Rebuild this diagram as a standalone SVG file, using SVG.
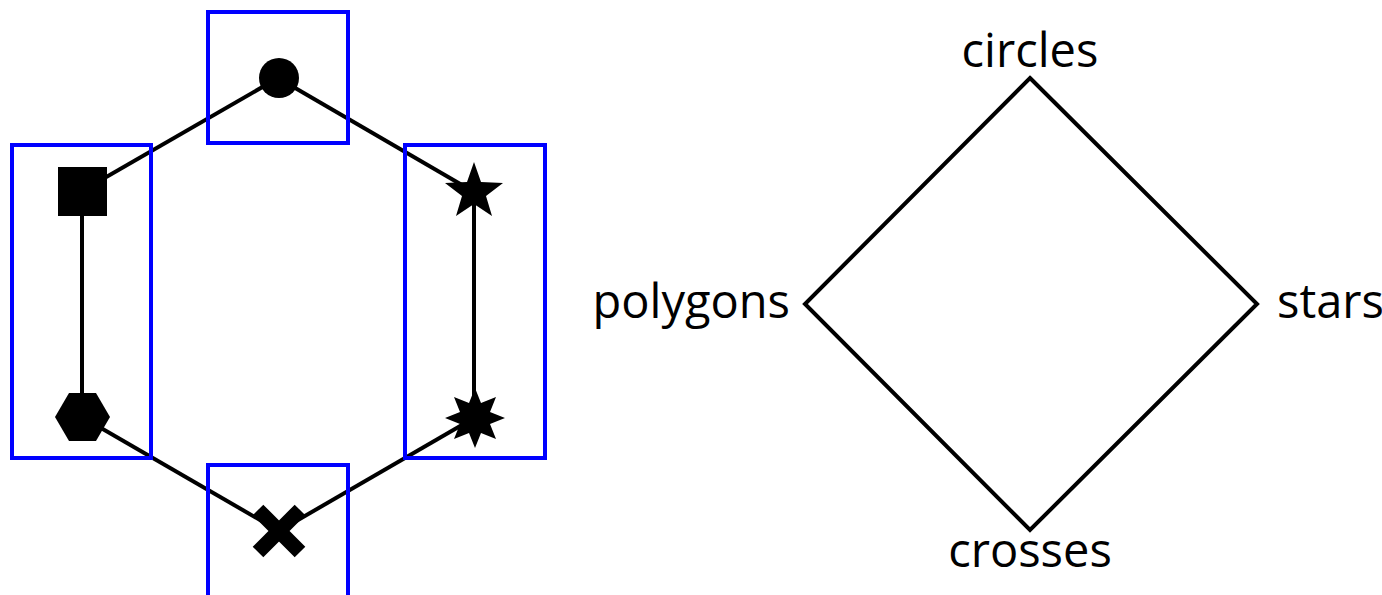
<svg xmlns="http://www.w3.org/2000/svg" width="1382" height="595" viewBox="0 0 1382 595">
<style>
.box{fill:none;stroke:#0000ff;stroke-width:4}
.edge{fill:none;stroke:#000;stroke-width:4}
.shape{fill:#000}
.lbl{font-family:"Open Sans","Noto Sans",sans-serif;font-size:47px;fill:#000}
</style>
<rect width="1382" height="595" fill="#fff"/>
<g id="connectors">
<line class="edge" x1="278" y1="78" x2="82" y2="191"/>
<line class="edge" x1="278" y1="78" x2="474" y2="192"/>
<line class="edge" x1="82" y1="191" x2="82" y2="417"/>
<line class="edge" x1="474" y1="192" x2="474" y2="418"/>
<line class="edge" x1="82" y1="417" x2="279" y2="531"/>
<line class="edge" x1="474" y1="418" x2="279" y2="531"/>
</g>
<g id="box-circles"><rect class="box" x="208" y="12" width="140" height="131"/></g>
<g id="box-polygons"><rect class="box" x="12" y="145" width="139" height="313"/></g>
<g id="box-stars"><rect class="box" x="405" y="145" width="140" height="313"/></g>
<g id="box-crosses"><rect class="box" x="208" y="465" width="140" height="140"/></g>
<g id="node-circle"><circle class="shape" cx="279" cy="78" r="20"/></g>
<g id="node-square"><rect class="shape" x="58" y="167" width="49" height="49"/></g>
<g id="node-hexagon"><polygon class="shape" points="55,417 69,393 96,393 110,417 96,441 69,441"/></g>
<g id="node-star5"><polygon class="shape" points="474,162 481,182 503,183 486,196 492,216 474,204 456,216 462,196 445,183 467,182"/></g>
<g id="node-star8"><polygon class="shape" points="475,388 481,403 496,397 490,412 505,418 490,424 496,439 481,433 475,448 469,433 454,439 460,424 445,418 460,412 454,397 469,403"/></g>
<g id="node-cross"><path d="M258,510 L300,552 M258,552 L300,510" stroke="#000" stroke-width="15" fill="none"/></g>
<g id="diamond"><polygon class="edge" points="1030,78 1257,304 1030,530 805,304"/></g>
<g id="labels">
<text class="lbl" x="1030" y="67" text-anchor="middle">circles</text>
<text class="lbl" x="790" y="318" text-anchor="end">polygons</text>
<text class="lbl" x="1277" y="318">stars</text>
<text class="lbl" x="1030" y="567" text-anchor="middle">crosses</text>
</g>
</svg>
